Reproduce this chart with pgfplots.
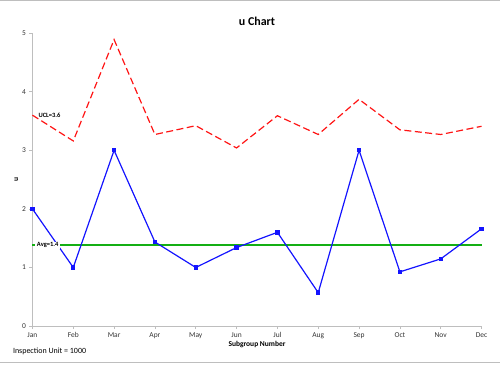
\documentclass[border=0pt]{standalone}
\usepackage{pgfplots}
\pgfplotsset{compat=1.18}
\usepackage{fontspec}
\setmainfont{Carlito}
\definecolor{axgray}{RGB}{190,190,190}
\definecolor{ublue}{RGB}{20,20,255}
\definecolor{ured}{RGB}{255,20,20}
\definecolor{avggreen}{RGB}{20,175,20}
\begin{document}
\begin{tikzpicture}[x=1pt,y=1pt]
\path (0,0) rectangle (500,365);
\draw[color=axgray,line width=1pt] (0,364) -- (500,364);
\draw[color=axgray,line width=1pt] (0,1.5) -- (500,1.5);
\begin{axis}[
  at={(32pt,38.3pt)}, anchor=origin,
  scale only axis, width=450pt, height=293.5pt,
  xmin=0, xmax=11, ymin=0, ymax=5,
  axis x line*=bottom, axis y line*=left,
  axis line style={color=axgray, line width=0.8pt},
  xtick={0,...,11},
  xticklabels={Jan,Feb,Mar,Apr,May,Jun,Jul,Aug,Sep,Oct,Nov,Dec},
  ytick={0,1,2,3,4,5},
  tick style={color=axgray, line width=0.6pt},
  tick align=outside, major tick length=3pt,
  ticklabel style={font=\fontsize{7.5}{8}\selectfont, text=black!80},
  /pgf/number format/assume math mode=true,
  xlabel={Subgroup Number}, ylabel={u},
  xlabel style={font=\fontsize{7.5}{8}\selectfont\bfseries, yshift=4pt},
  ylabel style={font=\fontsize{7.5}{8}\selectfont\bfseries, yshift=-3pt},
  title={u Chart},
  title style={font=\fontsize{12}{13}\selectfont\bfseries, yshift=-2pt},
  clip=false,
]
\addplot[draw=ured, line width=1.2pt, dash pattern=on 7pt off 3.5pt] coordinates {
(0,3.60) (1,3.16) (2,4.89) (3,3.27) (4,3.42) (5,3.04) (6,3.59) (7,3.27) (8,3.87) (9,3.35) (10,3.27) (11,3.41)};
% average line (u-bar = 1.378)
\addplot[draw=avggreen, line width=2pt, mark=none] coordinates {(0,1.378) (11,1.378)};
\addplot[draw=ublue, line width=1.2pt, mark=square*, mark size=1.6pt, mark options={solid,fill=ublue,draw=ublue}] coordinates {
(0,2.00) (1,1.00) (2,3.00) (3,1.435) (4,1.00) (5,1.34) (6,1.60) (7,0.57) (8,3.00) (9,0.925) (10,1.146) (11,1.66)};
\node[anchor=west, font=\fontsize{6.5}{7}\selectfont\bfseries, fill=white, inner sep=1pt] at (axis cs:0.12,3.60) {UCL=3.6};
\node[anchor=west, font=\fontsize{6.5}{7}\selectfont\bfseries, fill=white, inner xsep=1.5pt, inner ysep=1pt] at (axis cs:0.07,1.378) {Avg=1.4};
\end{axis}
\node[anchor=west, font=\fontsize{8}{9}\selectfont] at (9,12.5) {Inspection Unit = 1000};
\end{tikzpicture}
\end{document}
